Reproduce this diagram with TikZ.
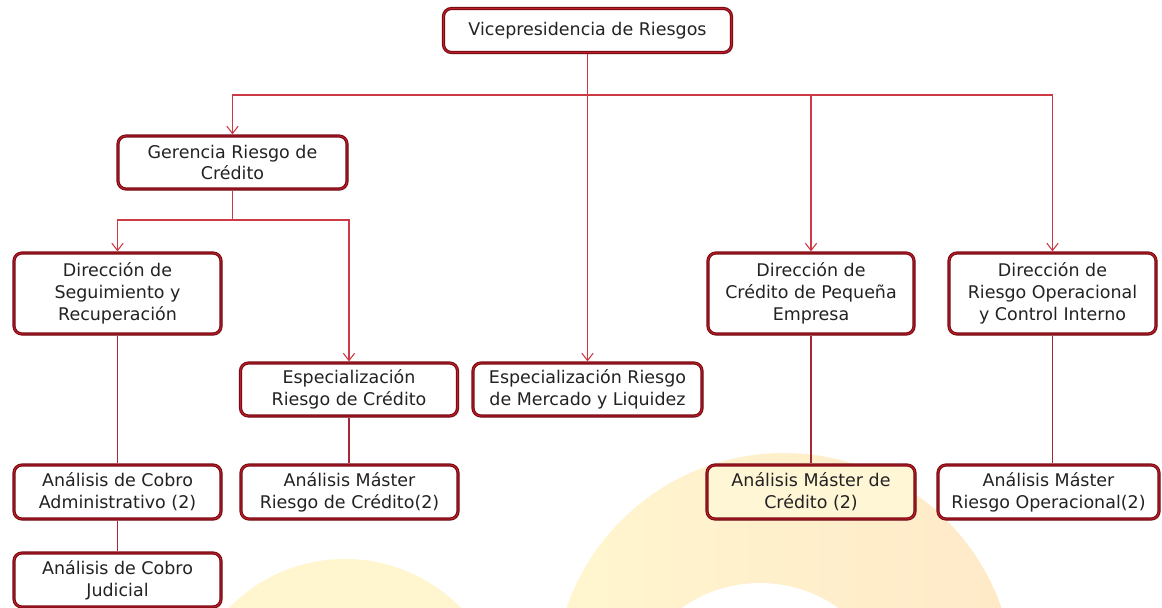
\documentclass[tikz,border=0pt]{standalone}
\usepackage{fontspec}
\setmainfont{DejaVu Sans}
\usetikzlibrary{arrows.meta,shadows}
\definecolor{bord}{HTML}{7A0C14}
\definecolor{bordlight}{HTML}{C01E2A}
\definecolor{txt}{HTML}{222222}
\definecolor{conncol}{HTML}{CC3A46}
\definecolor{linecol}{HTML}{A4283A}
\definecolor{wmyellow}{HTML}{FFF6CF}
\definecolor{wmpeach}{HTML}{FFE9C8}
\definecolor{boxyellow}{HTML}{FFF6D6}
\begin{document}
\begin{tikzpicture}[x=0.75pt,y=-0.75pt,
  box/.style={draw=bord, line width=2.4pt, rounded corners=6pt, fill=white,
    align=center, inner sep=0pt, text=txt,
    font=\fontsize{13.1pt}{16.3pt}\selectfont,
    drop shadow={shadow xshift=1.2pt,shadow yshift=-1.2pt,opacity=0.3},
    postaction={draw=bordlight, line width=0.7pt}},
  wh/.style 2 args={minimum width=#1*0.75pt, minimum height=#2*0.75pt},
  conn/.style={draw=conncol, line width=0.8pt, -{Straight Barb[length=5.5pt,width=8.5pt]}},
  plain/.style={draw=linecol, line width=1.1pt}
]
\useasboundingbox (0,0) rectangle (1162,607);
\fill[white] (0,0) rectangle (1162,607);
% watermark
\begin{scope}
\clip (0,0) rectangle (1162,607);
\fill[wmyellow] (345,721) circle (162);
\shade[left color=wmyellow, right color=wmpeach] (784,683) circle (230);
\fill[white] (760,718) circle (135);
\end{scope}

% nodes
\node[box, wh={288}{44}] (vp) at (587.5,30.5) {Vicepresidencia de Riesgos};
\node[box, wh={229}{53}] (ger) at (232.5,162.5) {Gerencia Riesgo de\\Crédito};
\node[box, wh={207}{81}] (dsr) at (117.5,293.5) {Dirección de\\Seguimiento y\\Recuperación};
\node[box, wh={217}{53}] (erc) at (349,389.5) {Especialización\\Riesgo de Crédito};
\node[box, wh={229}{53}] (erm) at (587.5,389.5) {Especialización Riesgo\\de Mercado y Liquidez};
\node[box, wh={206}{81}] (dcp) at (811,293.5) {Dirección de\\Crédito de Pequeña\\Empresa};
\node[box, wh={207}{81}] (dro) at (1052.5,293.5) {Dirección de\\Riesgo Operacional\\y Control Interno};
\node[box, wh={207}{54}] (cad) at (117.5,492) {Análisis de Cobro\\Administrativo (2)};
\node[box, wh={217}{54}] (mrc) at (349.5,492) {Análisis Máster\\Riesgo de Crédito(2)};
\node[box, wh={208}{54}, fill=boxyellow] (mcr) at (811,492) {Análisis Máster de\\Crédito (2)};
\node[box, wh={221}{54}] (mro) at (1048.5,492) {Análisis Máster\\Riesgo Operacional(2)};
\node[box, wh={207}{54}] (cju) at (117.5,580) {Análisis de Cobro\\Judicial};

% connectors
\coordinate (bus) at (587.5,95);
\coordinate (gbus) at (232.5,220);
\draw[conn] (vp.south) -- (erm.north);
\draw[conn] (bus) -| (ger.north);
\draw[conn] (bus) -| (dcp.north);
\draw[conn] (bus) -| (dro.north);
\draw[draw=conncol, line width=0.8pt] (ger.south) -- (gbus);
\draw[conn] (gbus) -| (dsr.north);
\draw[conn] (gbus) -| (erc.north);
\draw[plain] (dsr.south) -- (cad.north);
\draw[plain] (cad.south) -- (cju.north);
\draw[plain] (erc.south) -- (mrc.north -| erc.south);
\draw[plain] (dcp.south) -- (mcr.north);
\draw[plain] (dro.south) -- (mro.north -| dro.south);
\end{tikzpicture}
\end{document}
